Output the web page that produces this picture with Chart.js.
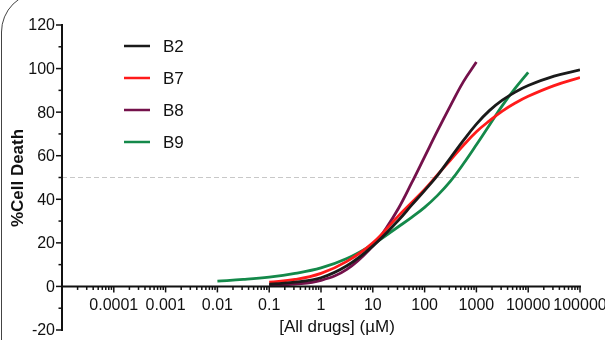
<!DOCTYPE html>
<html>
<head>
<meta charset="utf-8">
<script src="https://cdn.jsdelivr.net/npm/chart.js@4.4.0/dist/chart.umd.min.js"></script>
<style>
  html, body { margin: 0; padding: 0; background: #fff; overflow: hidden; }
  #wrap { position: relative; width: 605px; height: 340px; }
  #frame {
    position: absolute; left: 1px; top: -8px; width: 700px; height: 500px;
    border: 1.5px solid #444; border-radius: 40px; box-sizing: border-box;
  }
  canvas { position: absolute; left: 0; top: 0; }
</style>
</head>
<body>
<div id="wrap">
  <div id="frame"></div>
  <canvas id="chart" width="605" height="340"></canvas>
</div>
<script>
// ---------- data ----------
const seriesNames = ["B2", "B7", "B8", "B9"];
const seriesColors = ["#1a1a1a", "#ff1a1a", "#74114b", "#14894a"];

const concB2 = [0.1, 0.316, 1, 3.16, 10, 31.6, 56.2, 100, 178, 316, 562, 1000, 1778, 3162, 5623, 10000, 31623, 100000];
const valB2  = [1.0, 2.0, 4.0, 9.5, 18.5, 30.5, 37.3, 44, 51, 59, 67, 74.5, 80.7, 85.5, 89.2, 92.2, 96.5, 99.4];

const concB7 = [0.1, 0.316, 1, 3.16, 10, 31.6, 100, 178, 316, 562, 1000, 1778, 3162, 5623, 10000, 31623, 100000];
const valB7  = [2.0, 3.2, 6.0, 11.5, 20, 32.5, 44.5, 51.3, 58, 64.8, 71, 76, 80.5, 84.2, 87.3, 92.2, 95.9];

const concB8 = [0.1, 0.316, 1, 3.16, 10, 17.8, 31.6, 56.2, 100, 178, 316, 562, 1000];
const valB8  = [0.5, 1.1, 2.8, 7.8, 18.5, 26.5, 36, 47.5, 59.5, 71.5, 83, 94, 103];

const concB9 = [0.01, 0.0316, 0.1, 0.316, 1, 3.16, 10, 31.6, 56.2, 100, 178, 316, 562, 1000, 1778, 3162, 5623, 10000];
const valB9  = [2.4, 3.2, 4.3, 6.0, 8.5, 12.8, 19.3, 27.5, 31.7, 36.3, 41.8, 48.3, 56.3, 65, 74, 83, 91, 98.3];

const xMajorTicks = [1e-5, 1e-4, 1e-3, 1e-2, 1e-1, 1, 10, 100, 1000, 10000, 100000];
const xTickLabels = ["", "0.0001", "0.001", "0.01", "0.1", "1", "10", "100", "1000", "10000", "100000"];
const yTickValues = [-20, 0, 20, 40, 60, 80, 100, 120];
const yTickLabels = ["-20", "0", "20", "40", "60", "80", "100", "120"];
const refLine = 50;

const FONT = "'Liberation Sans', Arial, sans-serif";

function pairs(xs, ys) {
  return xs.map((x, i) => ({ x: x, y: ys[i] }));
}

// ---------- custom axes / legend ----------
const prismAxes = {
  id: "prismAxes",
  beforeDatasetsDraw(chart) {
    const { ctx, chartArea } = chart;
    const ys = chart.scales.y;
    const yy = ys.getPixelForValue(refLine);
    ctx.save();
    ctx.strokeStyle = "#c8c8c8";
    ctx.lineWidth = 1;
    ctx.setLineDash([5, 3]);
    ctx.beginPath();
    ctx.moveTo(chartArea.left, yy);
    ctx.lineTo(chartArea.right, yy);
    ctx.stroke();
    ctx.restore();
  },
  afterDraw(chart) {
    const { ctx, chartArea } = chart;
    const xs = chart.scales.x;
    const ys = chart.scales.y;
    ctx.save();
    ctx.strokeStyle = "#111";
    ctx.fillStyle = "#111";

    // y axis
    const ax = chartArea.left;
    ctx.lineWidth = 2;
    ctx.beginPath();
    ctx.moveTo(ax, ys.getPixelForValue(120) - 1);
    ctx.lineTo(ax, ys.getPixelForValue(-20) + 1);
    ctx.stroke();
    ctx.lineWidth = 1.5;
    for (let v = -20; v <= 120; v += 10) {
      const p = ys.getPixelForValue(v);
      const len = v % 20 === 0 ? 6 : 3.5;
      ctx.beginPath();
      ctx.moveTo(ax - len, p);
      ctx.lineTo(ax, p);
      ctx.stroke();
    }
    ctx.font = "16px " + FONT;
    ctx.textAlign = "right";
    ctx.textBaseline = "middle";
    yTickValues.forEach((v, i) => {
      ctx.fillText(yTickLabels[i], ax - 7, ys.getPixelForValue(v) + 1);
    });

    // x axis (dotted break from the y axis, then the log axis)
    const y0 = ys.getPixelForValue(0);
    const xStart = xs.getPixelForValue(xMajorTicks[0]);
    const xEnd = xs.getPixelForValue(xMajorTicks[xMajorTicks.length - 1]);
    ctx.lineWidth = 2;
    ctx.setLineDash([2, 2]);
    ctx.beginPath();
    ctx.moveTo(ax + 1, y0);
    ctx.lineTo(xStart, y0);
    ctx.stroke();
    ctx.setLineDash([]);
    ctx.beginPath();
    ctx.moveTo(xStart - 1, y0);
    ctx.lineTo(xEnd + 1, y0);
    ctx.stroke();
    ctx.lineWidth = 1.5;
    xMajorTicks.forEach((d, i) => {
      const p = xs.getPixelForValue(d);
      ctx.beginPath();
      ctx.moveTo(p, y0);
      ctx.lineTo(p, y0 + 6);
      ctx.stroke();
      if (i < xMajorTicks.length - 1) {
        for (let k = 2; k <= 9; k++) {
          const q = xs.getPixelForValue(k * d);
          ctx.beginPath();
          ctx.moveTo(q, y0);
          ctx.lineTo(q, y0 + 3.5);
          ctx.stroke();
        }
      }
    });
    ctx.font = "16px " + FONT;
    ctx.textAlign = "center";
    ctx.textBaseline = "middle";
    xMajorTicks.forEach((d, i) => {
      if (xTickLabels[i]) ctx.fillText(xTickLabels[i], xs.getPixelForValue(d), y0 + 19);
    });

    // axis titles
    ctx.font = "17px " + FONT;
    ctx.fillText("[All drugs] (\u00b5M)", 337, 327);
    ctx.save();
    ctx.translate(18, 178);
    ctx.rotate(-Math.PI / 2);
    ctx.font = "bold 17px " + FONT;
    ctx.fillText("%Cell Death", 0, 0);
    ctx.restore();

    // legend
    ctx.font = "17px " + FONT;
    ctx.textAlign = "left";
    seriesNames.forEach((name, i) => {
      const ly = 46 + i * 32;
      ctx.strokeStyle = seriesColors[i];
      ctx.lineWidth = 2.5;
      ctx.beginPath();
      ctx.moveTo(124, ly);
      ctx.lineTo(150, ly);
      ctx.stroke();
      ctx.fillStyle = "#111";
      ctx.fillText(name, 163, ly + 1);
    });
    ctx.restore();
  }
};

const allData = [pairs(concB2, valB2), pairs(concB7, valB7), pairs(concB8, valB8), pairs(concB9, valB9)];

new Chart(document.getElementById("chart"), {
  type: "line",
  data: {
    datasets: seriesNames.map((name, i) => ({
      label: name,
      data: allData[i],
      borderColor: seriesColors[i],
      borderWidth: 2.8,
      pointRadius: 0,
      fill: false,
      tension: 0.4
    }))
  },
  options: {
    responsive: false,
    animation: false,
    layout: { padding: { left: 62, right: 25, top: 25, bottom: 10 } },
    plugins: { legend: { display: false }, tooltip: { enabled: false } },
    scales: {
      x: { type: "logarithmic", min: 1e-5, max: 1e5, display: false },
      y: { type: "linear", min: -20, max: 120, display: false }
    }
  },
  plugins: [prismAxes]
});
</script>
</body>
</html>
